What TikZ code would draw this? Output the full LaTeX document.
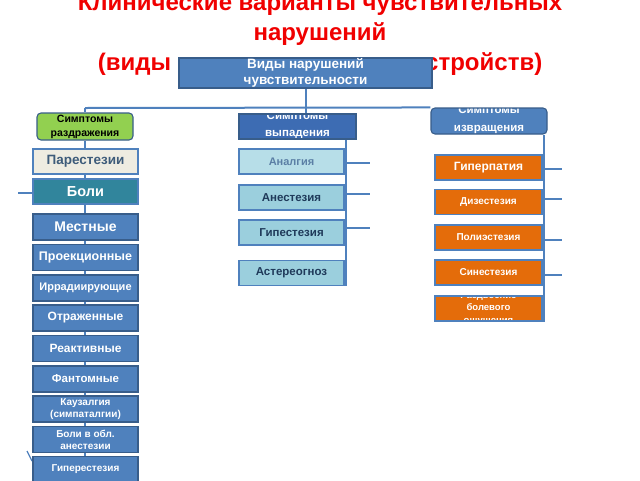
\documentclass[tikz,border=0pt]{standalone}
\usepackage{fontspec}
\setmainfont{Liberation Sans}
\usetikzlibrary{backgrounds}
\definecolor{ttl}{HTML}{F00000}
\definecolor{bfill}{HTML}{4F81BD}
\definecolor{bdark}{HTML}{385D8A}
\definecolor{gfill}{HTML}{92D050}
\definecolor{parf}{HTML}{EEECE1}
\definecolor{parT}{HTML}{3E5C7A}
\definecolor{tealf}{HTML}{31859C}
\definecolor{vypf}{HTML}{3D6CB3}
\definecolor{anaf}{HTML}{B7DEE8}
\definecolor{anaT}{HTML}{5B7FA5}
\definecolor{ltf}{HTML}{9BCFDD}
\definecolor{ltT}{HTML}{1F3A5A}
\definecolor{orgf}{HTML}{E46C0A}
\newcommand\myfs[2]{\fontsize{#1}{#2}\selectfont}
\begin{document}
\begin{tikzpicture}[x=1pt,y=-1pt,
  ttlst/.style={text=ttl,font=\bfseries\myfs{24}{28},anchor=base,inner sep=0pt},
  bx/.style={draw=bdark,line width=1.1pt,inner sep=0pt,align=center,font=\bfseries},
  lbox/.style={bx,fill=bfill,text=white,minimum width=105pt,minimum height=26pt},
  mbox/.style={bx,draw=bfill,fill=ltf,text=ltT,minimum width=105pt,minimum height=25pt,font=\bfseries\myfs{11.5}{13}},
  obox/.style={bx,draw=bfill,fill=orgf,text=white,minimum width=107pt,minimum height=25pt,font=\bfseries\myfs{10}{12}},
  conn/.style={draw=bfill,line width=2pt},
  cliptext/.style={text=white,font=\bfseries\myfs{11.5}{17},align=center,inner sep=0pt}
]
\useasboundingbox (0,0) rectangle (640,480);
\begin{scope}[on background layer]
  \fill[white] (0,0) rectangle (640,480);
\end{scope}

% title
\node[ttlst] (t1) at (320,10) {Клинические варианты чувствительных};
\node[ttlst] (t2) at (320,40) {нарушений};
\node[ttlst] (t3) at (320,70) {(виды чувствительных расстройств)};

% top box
\node[bx,fill=bfill,text=white,minimum width=253pt,minimum height=30pt,font=\bfseries\myfs{13.5}{16}] (top) at (305.5,73) {\raisebox{-3pt}{\parbox{240pt}{\centering Виды нарушений\\чувствительности}}};

% group heads
\node[bx,fill=gfill,text=black,rounded corners=4pt,minimum width=96pt,minimum height=27pt,font=\bfseries\myfs{10.5}{14}] (razd) at (85,126.5) {Симптомы\\раздражения};
\node[bx,fill=vypf,draw=bdark,minimum width=117pt,minimum height=25pt,
  path picture={\node[cliptext] (vyptxt) at ([yshift=1pt]path picture bounding box.center) {Симптомы\\выпадения};}] (vyp) at (297.5,126.5) {};
\node[bx,fill=bfill,draw=bdark,rounded corners=4pt,minimum width=116pt,minimum height=26pt,
  path picture={\node[cliptext,font=\bfseries\myfs{11.5}{18}] (izvtxt) at ([yshift=1pt]path picture bounding box.center) {Симптомы\\извращения};}] (izv) at (489,121) {};

% left column
\node[bx,draw=bfill,fill=parf,text=parT,minimum width=105pt,minimum height=25pt,font=\bfseries\myfs{13.5}{15}] (par) at (85.5,161.5) {Парестезии};
\node[bx,draw=bfill,fill=tealf,text=white,minimum width=105pt,minimum height=25pt,font=\bfseries\myfs{14.5}{16}] (boli) at (85.5,191.5) {Боли};
\node[lbox,font=\bfseries\myfs{14}{16}] (mest) at (85.5,227) {Местные};
\node[lbox,font=\bfseries\myfs{12.5}{14}] (proek) at (85.5,257.5) {Проекционные};
\node[lbox,font=\bfseries\myfs{11}{13}] (irr) at (85.5,288) {Иррадиирующие};
\node[lbox,font=\bfseries\myfs{12}{14}] (otr) at (85.5,318) {Отраженные};
\node[lbox,font=\bfseries\myfs{12}{14}] (reakt) at (85.5,348.5) {Реактивные};
\node[lbox,font=\bfseries\myfs{11.5}{14}] (fant) at (85.5,379) {Фантомные};
\node[lbox,font=\bfseries\myfs{10}{12}] (kauz) at (85.5,409) {Каузалгия\\(симпаталгии)};
\node[lbox,font=\bfseries\myfs{10}{12}] (bobl) at (85.5,439.5) {Боли в обл.\\анестезии};
\node[lbox,font=\bfseries\myfs{10}{12}] (giper) at (85.5,469.5) {Гиперестезия};

% middle column
\node[mbox,fill=anaf,text=anaT,font=\bfseries\myfs{11}{13}] (analg) at (291.5,161.5) {Аналгия};
\node[mbox] (anest) at (291.5,197.5) {Анестезия};
\node[mbox] (gipest) at (291.5,232.5) {Гипестезия};
\node[mbox] (aster) at (291.5,273) {Астереогноз};

% right column
\node[obox,font=\bfseries\myfs{12}{14}] (hyperp) at (488.5,167.5) {Гиперпатия};
\node[obox] (dizest) at (488.5,202) {Дизестезия};
\node[obox] (poli) at (488.5,237.5) {Полиэстезия};
\node[obox] (sinest) at (488.5,272.5) {Синестезия};
\node[obox,path picture={\node[cliptext,font=\bfseries\myfs{9.5}{12.5}] (razdvtxt) at (path picture bounding box.center) {Раздвоение\\болевого\\ощущения};}] (razdv) at (488.5,308.5) {};

% free ends
\coordinate (hub) at (305.5,108);
\coordinate (bstub) at (18,193);
\coordinate (tk1) at (27,451);
\coordinate (tk2) at (32,461);
\coordinate (m1) at (370,163);
\coordinate (m2) at (370,194);
\coordinate (m3) at (370,228);
\coordinate (r1) at (562,169);
\coordinate (r2) at (562,199);
\coordinate (r3) at (562,240);
\coordinate (r4) at (562,275);

\begin{scope}[on background layer]
  \draw[conn] (top.south) -- (top.south |- vyp.north);
  \draw[conn] (razd.north |- hub) -- (izv.north west);
  \draw[conn] (razd.north |- hub) -- (razd.north);
  \draw[conn] (razd.south) -- (razd.south |- giper.south);
  \draw[conn] (bstub -| boli.west) -- (bstub);
  \draw[conn,line width=1.2pt] (tk1) -- (tk2);
  \draw[conn] ([xshift=1pt]vyp.south -| analg.east) -- ([xshift=1pt]aster.south east);
  \draw[conn] ([xshift=1pt]m1 -| analg.east) -- (m1);
  \draw[conn] ([xshift=1pt]m2 -| anest.east) -- (m2);
  \draw[conn] ([xshift=1pt]m3 -| gipest.east) -- (m3);
  \draw[conn] ([xshift=1pt]hyperp.east |- izv.south) -- ([xshift=1pt]razdv.south east);
  \draw[conn] ([xshift=1pt]r1 -| hyperp.east) -- (r1);
  \draw[conn] ([xshift=1pt]r2 -| dizest.east) -- (r2);
  \draw[conn] ([xshift=1pt]r3 -| poli.east) -- (r3);
  \draw[conn] ([xshift=1pt]r4 -| sinest.east) -- (r4);
\end{scope}
\end{tikzpicture}
\end{document}
